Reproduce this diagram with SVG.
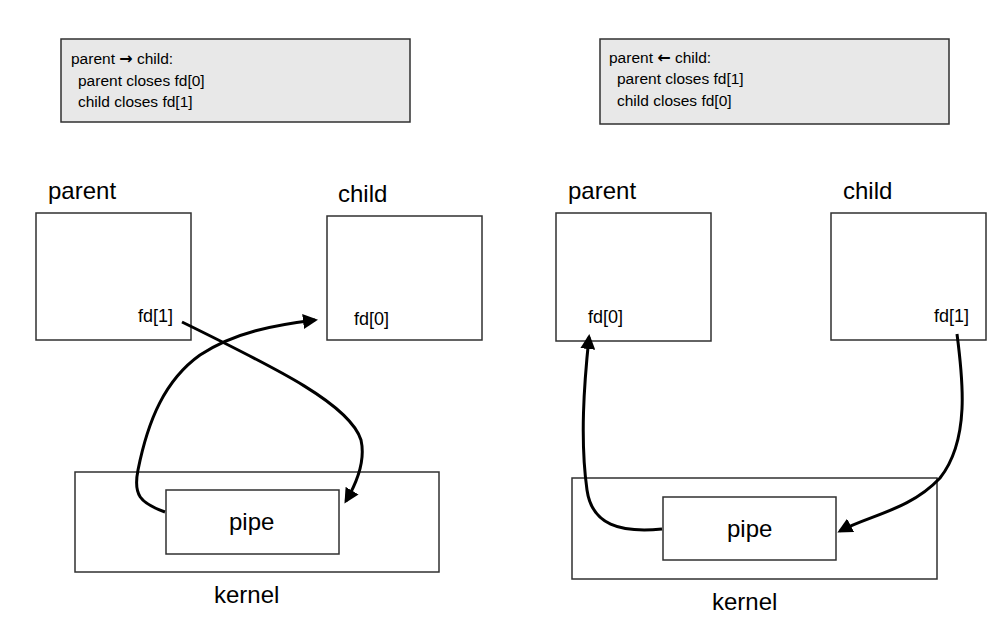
<svg xmlns="http://www.w3.org/2000/svg" width="1004" height="625" viewBox="0 0 1004 625">
<defs>
<style>
.box{fill:#ffffff;stroke:#303030;stroke-width:1.5}
.note{fill:#e8e8e8;stroke:#303030;stroke-width:1.5}
.t{font-family:"Liberation Sans",Arial,sans-serif;fill:#000}
.big{font-size:24px}
.fd{font-size:18px}
.nt{font-size:15.5px}
.arr{font-family:"DejaVu Sans",sans-serif;font-weight:bold;font-size:16px}
.conn{fill:none;stroke:#000;stroke-width:3;marker-end:url(#ah)}
</style>
<marker id="ah" viewBox="0 0 10 10" refX="8" refY="5" markerWidth="5" markerHeight="5" orient="auto" markerUnits="strokeWidth">
<path d="M0,0 L10,5 L0,10 Z" fill="#000"/>
</marker>
</defs>
<rect width="1004" height="625" fill="#fff"/>

<g id="note-left">
<rect class="note" x="61" y="39" width="349" height="83"/>
<text class="t nt" x="71" y="64">parent <tspan class="arr">→</tspan> child:</text>
<text class="t nt" x="78" y="86">parent closes fd[0]</text>
<text class="t nt" x="78" y="107">child closes fd[1]</text>
</g>
<g id="note-right">
<rect class="note" x="600" y="39" width="349" height="85"/>
<text class="t nt" x="609" y="63">parent <tspan class="arr">←</tspan> child:</text>
<text class="t nt" x="617" y="84">parent closes fd[1]</text>
<text class="t nt" x="617" y="106">child closes fd[0]</text>
</g>

<g id="parent-left">
<text class="t big" x="48" y="199">parent</text>
<rect class="box" x="36" y="213" width="155" height="127"/>
<text class="t fd" x="138" y="322">fd[1]</text>
</g>
<g id="child-left">
<text class="t big" x="338" y="202">child</text>
<rect class="box" x="327" y="216" width="155" height="124"/>
<text class="t fd" x="354" y="325">fd[0]</text>
</g>
<g id="kernel-left">
<rect class="box" x="75" y="472" width="364" height="100"/>
<text class="t big" x="214" y="603">kernel</text>
</g>
<g id="pipe-left">
<rect class="box" x="166" y="490" width="173" height="64"/>
<text class="t big" x="229" y="530">pipe</text>
</g>

<g id="parent-right">
<text class="t big" x="568" y="199">parent</text>
<rect class="box" x="556" y="213" width="155" height="128"/>
<text class="t fd" x="588" y="323">fd[0]</text>
</g>
<g id="child-right">
<text class="t big" x="843" y="199">child</text>
<rect class="box" x="831" y="213" width="155" height="127"/>
<text class="t fd" x="934" y="322">fd[1]</text>
</g>
<g id="kernel-right">
<rect class="box" x="572" y="478" width="365" height="101"/>
<text class="t big" x="712" y="610">kernel</text>
</g>
<g id="pipe-right">
<rect class="box" x="663" y="497" width="173" height="63"/>
<text class="t big" x="727" y="537">pipe</text>
</g>

<g id="connectors">
<path class="conn" d="M182,322 C280,370 350,405 361,440 C366,462 356,484 346,501"/>
<path class="conn" d="M165,512 C140,503 133,495 138,470 C148,420 165,380 200,355 C235,332 275,325 315,320"/>
<path class="conn" d="M662,529 C620,533 592,525 587,490 C580,440 584,385 589,337"/>
<path class="conn" d="M957,334 C963,380 970,440 940,478 C910,510 870,515 840,531"/>
</g>
</svg>
